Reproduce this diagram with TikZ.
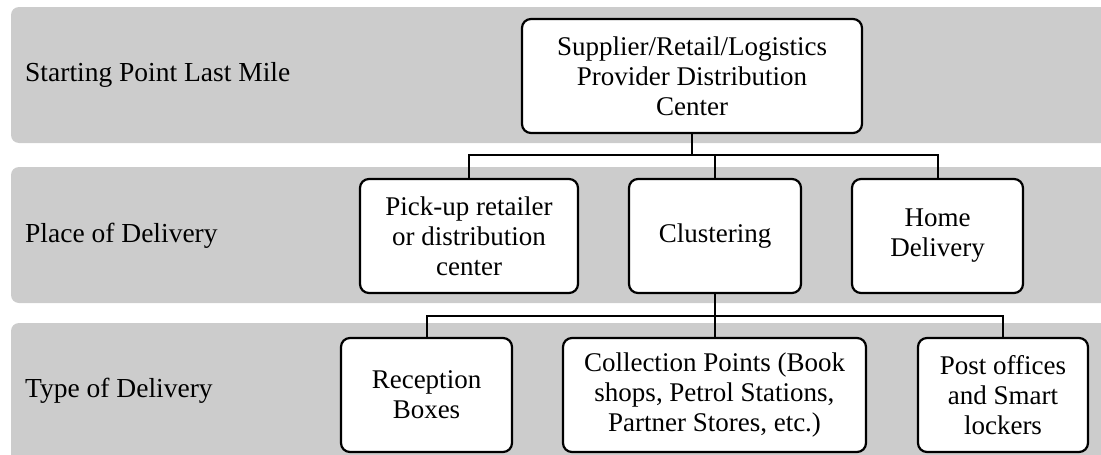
\documentclass[tikz,border=0pt]{standalone}
\usepackage{fontspec}
\setmainfont{Liberation Serif}
\definecolor{bandgray}{RGB}{204,204,204}
\tikzset{
  band/.style={fill=bandgray, draw=none, rounded corners=8pt},
  bandlabel/.style={anchor=west, inner sep=0pt, font=\fontsize{27.5}{30}\selectfont},
  box/.style={draw=black, line width=2.2pt, fill=white, rounded corners=9pt,
    minimum height=114pt, inner sep=0pt, align=center,
    font=\fontsize{27}{30}\selectfont},
  conn/.style={draw=black, line width=2pt},
}
\begin{document}
\begin{tikzpicture}[x=1pt,y=-1pt]
\useasboundingbox (0,0) rectangle (1101,455);
\clip (0,0) rectangle (1101,455);
% bands
\fill[band] (11,7) rectangle (1120,143);
\fill[band] (11,167) rectangle (1120,303);
\fill[band] (11,323) rectangle (1120,475);
% band labels
\node[bandlabel] (l1) at (25,75) {Starting Point Last Mile};
\node[bandlabel] (l2) at (25,236) {Place of Delivery};
\node[bandlabel] (l3) at (25,391) {Type of Delivery};
% boxes
\node[box, minimum width=340pt] (top) at (692,76) {Supplier/Retail/Logistics\\Provider Distribution\\Center};
\node[box, minimum width=218pt] (pick) at (469,236) {Pick-up retailer\\or distribution\\center};
\node[box, minimum width=172pt] (clus) at (715,236) {Clustering};
\node[box, minimum width=171pt] (home) at (937.5,236) {Home\\Delivery};
\node[box, minimum width=171pt] (recep) at (426.5,395) {Reception\\Boxes};
\node[box, minimum width=303pt] (coll) at (714.5,395) {Collection Points (Book\\shops, Petrol Stations,\\Partner Stores, etc.)};
\node[box, minimum width=170pt] (post) at (1003,395) {Post offices\\and Smart\\lockers};
% junctions
\coordinate (j1) at (692,155);
\coordinate (j2) at (715,316);
% connectors
\draw[conn] (top.south) -- (j1);
\draw[conn] (pick.north) -- (pick.north |- j1) -- (home.north |- j1) -- (home.north);
\draw[conn] (clus.north) -- (clus.north |- j1);
\draw[conn] (clus.south) -- (j2);
\draw[conn] (recep.north) -- (recep.north |- j2) -- (post.north |- j2) -- (post.north);
\draw[conn] (coll.north) -- (coll.north |- j2);
\end{tikzpicture}
\end{document}
